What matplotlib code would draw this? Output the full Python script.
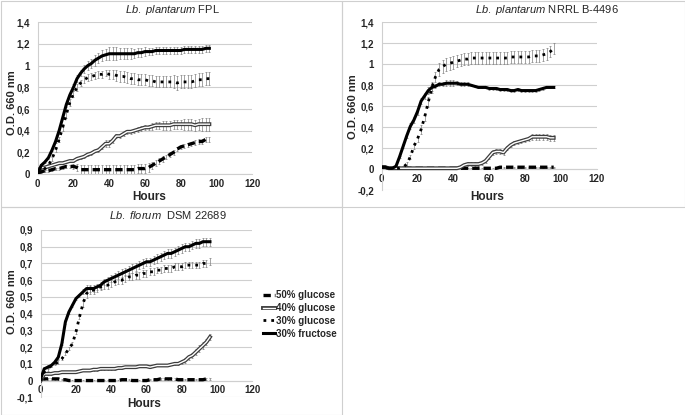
import matplotlib
matplotlib.use('Agg')
import matplotlib.pyplot as plt
import matplotlib.patheffects as pe
from matplotlib.patches import Rectangle
from matplotlib.ticker import FuncFormatter, MultipleLocator

plt.rcParams['font.family'] = ['Liberation Sans', 'DejaVu Sans']
plt.rcParams['mathtext.fontset'] = 'custom'
plt.rcParams['mathtext.rm'] = 'Liberation Sans'
plt.rcParams['mathtext.it'] = 'Liberation Sans:italic'

# sampling times (h), one reading every 2 h
hours = list(range(0, 97, 2))

# ---- Lb. plantarum FPL ----
fpl_fru = [0.00, 0.08, 0.11, 0.15, 0.22, 0.30, 0.40, 0.52, 0.64, 0.73,
           0.80, 0.88, 0.93, 0.97, 1.00, 1.02, 1.05, 1.07, 1.09, 1.10,
           1.11, 1.11, 1.11, 1.11, 1.11, 1.11, 1.11, 1.11, 1.12, 1.12,
           1.13, 1.13, 1.13, 1.14, 1.14, 1.14, 1.14, 1.14, 1.14, 1.14,
           1.14, 1.15, 1.15, 1.15, 1.15, 1.15, 1.15, 1.16, 1.16]
fpl_fru_err = [0.01, 0.01, 0.01, 0.01, 0.01, 0.01, 0.01, 0.01, 0.02, 0.02,
               0.03, 0.03, 0.03, 0.04, 0.04, 0.04, 0.05, 0.05, 0.05, 0.05,
               0.06, 0.06, 0.06, 0.05, 0.05, 0.05, 0.05, 0.04, 0.04, 0.04,
               0.04, 0.03, 0.03, 0.03, 0.03, 0.03, 0.03, 0.03, 0.03, 0.03,
               0.03, 0.03, 0.03, 0.03, 0.03, 0.03, 0.03, 0.03, 0.03]
fpl_g30 = [0.00, 0.03, 0.05, 0.08, 0.14, 0.22, 0.32, 0.43, 0.55, 0.66,
           0.74, 0.80, 0.84, 0.87, 0.89, 0.90, 0.91, 0.92, 0.92, 0.93,
           0.92, 0.92, 0.91, 0.90, 0.90, 0.89, 0.88, 0.88, 0.87, 0.87,
           0.87, 0.86, 0.86, 0.85, 0.85, 0.85, 0.85, 0.85, 0.85, 0.84,
           0.85, 0.85, 0.85, 0.85, 0.86, 0.87, 0.87, 0.88, 0.88]
fpl_g30_err = [0.01, 0.01, 0.01, 0.01, 0.02, 0.02, 0.02, 0.03, 0.03, 0.03,
               0.03, 0.03, 0.03, 0.03, 0.03, 0.03, 0.03, 0.03, 0.03, 0.03,
               0.04, 0.04, 0.05, 0.05, 0.05, 0.05, 0.05, 0.05, 0.05, 0.05,
               0.05, 0.05, 0.05, 0.05, 0.05, 0.05, 0.05, 0.05, 0.06, 0.06,
               0.06, 0.06, 0.06, 0.06, 0.06, 0.06, 0.06, 0.06, 0.06]
fpl_g40 = [0.03, 0.06, 0.06, 0.07, 0.08, 0.09, 0.10, 0.10, 0.11, 0.12,
           0.12, 0.14, 0.15, 0.16, 0.18, 0.19, 0.21, 0.22, 0.25, 0.28,
           0.28, 0.31, 0.35, 0.35, 0.37, 0.39, 0.39, 0.40, 0.41, 0.42,
           0.43, 0.43, 0.44, 0.45, 0.45, 0.45, 0.45, 0.45, 0.46, 0.46,
           0.46, 0.46, 0.46, 0.46, 0.45, 0.46, 0.46, 0.46, 0.46]
fpl_g40_err = [0.01, 0.01, 0.01, 0.01, 0.01, 0.01, 0.01, 0.01, 0.01, 0.01,
               0.01, 0.01, 0.01, 0.01, 0.01, 0.01, 0.01, 0.02, 0.02, 0.03,
               0.03, 0.02, 0.02, 0.02, 0.02, 0.02, 0.02, 0.02, 0.02, 0.02,
               0.02, 0.02, 0.03, 0.03, 0.03, 0.04, 0.04, 0.04, 0.04, 0.04,
               0.04, 0.05, 0.05, 0.05, 0.05, 0.05, 0.06, 0.06, 0.06]
fpl_g50 = [0.01, 0.02, 0.03, 0.03, 0.04, 0.05, 0.05, 0.06, 0.07, 0.07,
           0.07, 0.06, 0.04, 0.04, 0.04, 0.04, 0.04, 0.04, 0.04, 0.04,
           0.04, 0.04, 0.04, 0.04, 0.04, 0.04, 0.04, 0.04, 0.05, 0.05,
           0.05, 0.06, 0.08, 0.10, 0.12, 0.14, 0.16, 0.18, 0.20, 0.23,
           0.25, 0.26, 0.27, 0.28, 0.29, 0.30, 0.30, 0.32, 0.32]
fpl_g50_err = [0.01, 0.01, 0.01, 0.01, 0.01, 0.01, 0.01, 0.01, 0.01, 0.01,
               0.02, 0.03, 0.04, 0.04, 0.04, 0.04, 0.04, 0.04, 0.04, 0.04,
               0.04, 0.04, 0.04, 0.04, 0.04, 0.04, 0.04, 0.04, 0.04, 0.04,
               0.04, 0.04, 0.03, 0.03, 0.03, 0.03, 0.02, 0.02, 0.02, 0.02,
               0.02, 0.02, 0.02, 0.02, 0.02, 0.02, 0.02, 0.02, 0.02]

# ---- Lb. plantarum NRRL B-4496 ----
nrrl_fru = [0.02, 0.02, 0.01, 0.01, 0.03, 0.12, 0.22, 0.32, 0.41, 0.47,
            0.55, 0.65, 0.70, 0.75, 0.78, 0.79, 0.81, 0.81, 0.82, 0.82,
            0.82, 0.82, 0.81, 0.81, 0.81, 0.80, 0.79, 0.78, 0.78, 0.78,
            0.77, 0.77, 0.77, 0.76, 0.76, 0.76, 0.75, 0.75, 0.76, 0.75,
            0.75, 0.75, 0.75, 0.75, 0.76, 0.77, 0.78, 0.78, 0.78]
nrrl_fru_err = [0.01, 0.01, 0.01, 0.01, 0.01, 0.01, 0.02, 0.02, 0.03, 0.03,
                0.03, 0.03, 0.03, 0.03, 0.03, 0.02, 0.02, 0.02, 0.03, 0.03,
                0.03, 0.02, 0.02, 0.02, 0.02, 0.01, 0.01, 0.01, 0.01, 0.01,
                0.01, 0.01, 0.01, 0.01, 0.01, 0.01, 0.01, 0.01, 0.01, 0.01,
                0.01, 0.01, 0.01, 0.01, 0.01, 0.01, 0.01, 0.01, 0.01]
nrrl_g30 = [0.02, 0.02, 0.01, 0.01, 0.01, 0.01, 0.02, 0.05, 0.12, 0.22,
            0.29, 0.38, 0.50, 0.64, 0.78, 0.88, 0.95, 0.98, 1.00, 1.01,
            1.02, 1.03, 1.04, 1.05, 1.05, 1.06, 1.06, 1.06, 1.06, 1.06,
            1.06, 1.06, 1.06, 1.06, 1.06, 1.06, 1.07, 1.07, 1.07, 1.07,
            1.07, 1.07, 1.08, 1.08, 1.08, 1.09, 1.10, 1.12, 1.15]
nrrl_g30_err = [0.01, 0.01, 0.01, 0.01, 0.01, 0.01, 0.01, 0.02, 0.02, 0.03,
                0.03, 0.04, 0.04, 0.05, 0.05, 0.05, 0.06, 0.06, 0.06, 0.06,
                0.06, 0.06, 0.06, 0.06, 0.06, 0.06, 0.06, 0.06, 0.06, 0.06,
                0.06, 0.06, 0.06, 0.06, 0.06, 0.06, 0.06, 0.06, 0.06, 0.06,
                0.06, 0.06, 0.06, 0.06, 0.06, 0.06, 0.06, 0.05, 0.05]
nrrl_g40 = [0.02, 0.02, 0.01, 0.01, 0.01, 0.01, 0.01, 0.01, 0.01, 0.01,
            0.01, 0.01, 0.01, 0.01, 0.01, 0.01, 0.01, 0.01, 0.01, 0.01,
            0.01, 0.01, 0.02, 0.04, 0.05, 0.05, 0.05, 0.05, 0.06, 0.08,
            0.12, 0.16, 0.17, 0.17, 0.16, 0.20, 0.23, 0.25, 0.26, 0.27,
            0.28, 0.29, 0.31, 0.31, 0.31, 0.31, 0.31, 0.30, 0.30]
nrrl_g40_err = [0.01, 0.01, 0.01, 0.01, 0.01, 0.01, 0.01, 0.01, 0.01, 0.01,
                0.01, 0.01, 0.01, 0.01, 0.01, 0.01, 0.01, 0.01, 0.01, 0.01,
                0.01, 0.01, 0.01, 0.01, 0.02, 0.02, 0.02, 0.02, 0.02, 0.02,
                0.02, 0.02, 0.02, 0.02, 0.02, 0.02, 0.02, 0.02, 0.02, 0.02,
                0.02, 0.02, 0.03, 0.03, 0.03, 0.03, 0.03, 0.03, 0.03]
nrrl_g50 = [0.02, 0.02, 0.01, 0.01, 0.01, 0.01, 0.01, 0.01, 0.01, 0.01,
            0.01, 0.01, 0.01, 0.01, 0.01, 0.01, 0.01, 0.01, 0.01, 0.01,
            0.01, 0.01, 0.01, 0.01, 0.01, 0.01, 0.01, 0.01, 0.01, 0.01,
            0.01, 0.01, 0.01, 0.02, 0.02, 0.02, 0.02, 0.02, 0.02, 0.02,
            0.02, 0.02, 0.02, 0.02, 0.02, 0.02, 0.02, 0.02, 0.02]
nrrl_g50_err = [0.005] * 49

# ---- Lb. florum DSM 22689 ----
fl_fru = [0.01, 0.07, 0.08, 0.09, 0.11, 0.14, 0.22, 0.35, 0.41, 0.45,
          0.49, 0.51, 0.53, 0.55, 0.55, 0.55, 0.56, 0.57, 0.59, 0.60,
          0.61, 0.62, 0.63, 0.64, 0.65, 0.66, 0.67, 0.68, 0.69, 0.70,
          0.71, 0.71, 0.72, 0.73, 0.74, 0.75, 0.76, 0.76, 0.77, 0.78,
          0.79, 0.80, 0.80, 0.81, 0.82, 0.82, 0.83, 0.83, 0.83]
fl_fru_err = [0.005, 0.01, 0.01, 0.01, 0.01, 0.01, 0.01, 0.01, 0.01, 0.01,
              0.01, 0.01, 0.015, 0.02, 0.02, 0.02, 0.02, 0.02, 0.02, 0.02,
              0.02, 0.025, 0.025, 0.025, 0.025, 0.025, 0.025, 0.025, 0.025, 0.025,
              0.025, 0.025, 0.025, 0.025, 0.025, 0.025, 0.025, 0.025, 0.025, 0.025,
              0.025, 0.025, 0.025, 0.025, 0.025, 0.025, 0.025, 0.025, 0.025]
fl_g30 = [0.00, 0.05, 0.07, 0.09, 0.10, 0.11, 0.13, 0.16, 0.19, 0.22,
          0.29, 0.38, 0.46, 0.52, 0.54, 0.54, 0.55, 0.56, 0.57, 0.57,
          0.58, 0.59, 0.60, 0.60, 0.61, 0.62, 0.62, 0.63, 0.63, 0.64,
          0.64, 0.65, 0.65, 0.66, 0.66, 0.67, 0.67, 0.67, 0.68, 0.68,
          0.68, 0.69, 0.69, 0.69, 0.69, 0.69, 0.70, 0.70, 0.71]
fl_g30_err = [0.005, 0.01, 0.01, 0.01, 0.01, 0.01, 0.01, 0.01, 0.01, 0.01,
              0.01, 0.015, 0.02, 0.025, 0.025, 0.02, 0.02, 0.02, 0.02, 0.02,
              0.02, 0.02, 0.02, 0.02, 0.02, 0.02, 0.02, 0.02, 0.02, 0.02,
              0.02, 0.02, 0.02, 0.02, 0.02, 0.02, 0.02, 0.02, 0.02, 0.02,
              0.02, 0.02, 0.02, 0.02, 0.02, 0.02, 0.02, 0.02, 0.02]
fl_g40 = [0.00, 0.04, 0.04, 0.04, 0.045, 0.045, 0.05, 0.05, 0.05, 0.05,
          0.05, 0.055, 0.06, 0.06, 0.06, 0.065, 0.065, 0.07, 0.07, 0.07,
          0.07, 0.07, 0.075, 0.075, 0.08, 0.08, 0.08, 0.08, 0.085, 0.085,
          0.085, 0.08, 0.085, 0.09, 0.09, 0.09, 0.09, 0.095, 0.10, 0.10,
          0.11, 0.12, 0.14, 0.15, 0.17, 0.19, 0.21, 0.23, 0.26]
fl_g40_err = [0.005, 0.005, 0.005, 0.005, 0.005, 0.005, 0.005, 0.005, 0.005, 0.005,
              0.005, 0.005, 0.005, 0.005, 0.005, 0.005, 0.005, 0.005, 0.005, 0.005,
              0.005, 0.005, 0.005, 0.005, 0.005, 0.005, 0.005, 0.005, 0.005, 0.005,
              0.005, 0.005, 0.005, 0.005, 0.005, 0.005, 0.005, 0.005, 0.01, 0.01,
              0.01, 0.015, 0.015, 0.015, 0.02, 0.02, 0.02, 0.02, 0.02]
fl_g50 = [0.01, 0.01, 0.01, 0.01, 0.01, 0.01, 0.005, 0.005, 0.00, 0.00,
          0.00, 0.00, 0.00, 0.00, 0.00, 0.00, 0.00, 0.00, 0.00, 0.00,
          0.00, 0.00, 0.00, 0.005, 0.005, 0.005, 0.00, 0.00, 0.00, 0.00,
          0.00, 0.005, 0.005, 0.005, 0.01, 0.01, 0.01, 0.01, 0.01, 0.005,
          0.005, 0.005, 0.005, 0.005, 0.005, 0.005, 0.005, 0.01, 0.01]
fl_g50_err = [0.004] * 49

labels = ['50% glucose', '40% glucose', '30% glucose', '30% fructose']

panels = [
    dict(title=r'$\mathit{Lb.\ plantarum}$ FPL', title_xy=(172, 10),
         rect=[0.0550, 0.5807, 0.3133, 0.3655], ylim=(0, 1.4), ystep=0.2,
         ylab_xy=(-0.12, 0.468), xlab_xy=(0.52, -0.151),
         data=[(fpl_g50, fpl_g50_err), (fpl_g40, fpl_g40_err),
               (fpl_g30, fpl_g30_err), (fpl_fru, fpl_fru_err)]),
    dict(title=r'$\mathit{Lb.\ plantarum}$ NRRL B-4496', title_xy=(547, 10),
         rect=[0.5572, 0.5414, 0.3139, 0.4048], ylim=(-0.2, 1.4), ystep=0.2,
         ylab_xy=(-0.133, 0.496), xlab_xy=(0.49, -0.04),
         data=[(nrrl_g50, nrrl_g50_err), (nrrl_g40, nrrl_g40_err),
               (nrrl_g30, nrrl_g30_err), (nrrl_fru, nrrl_fru_err)]),
    dict(title=r'$\mathit{Lb.\ florum}$  DSM 22689', title_xy=(168, 215),
         rect=[0.0594, 0.0427, 0.3089, 0.4031], ylim=(-0.1, 0.9), ystep=0.1,
         ylab_xy=(-0.136, 0.57), xlab_xy=(0.49, -0.04),
         data=[(fl_g50, fl_g50_err), (fl_g40, fl_g40_err),
               (fl_g30, fl_g30_err), (fl_fru, fl_fru_err)]),
]

W, H = 685, 415
txt = '#262626'
grid = '#cfcfcf'

# series styles: 50% glc dashed, 40% glc double line, 30% glc dotted, fructose solid
styles = [
    dict(color='black', lw=2.4, ls=(0, (2.2, 1.2))),
    dict(color='white', lw=1.0, ls='-',
         path_effects=[pe.Stroke(linewidth=2.8, foreground='#3c3c3c'), pe.Normal()]),
    dict(color='black', lw=2.0, ls=(0, (1, 1.8))),
    dict(color='black', lw=2.2, ls='-'),
]


def fmt(v, pos):
    if abs(v) < 1e-9:
        return '0'
    return ('%g' % round(v, 2)).replace('.', ',')


fig = plt.figure(figsize=(W / 100, H / 100), dpi=100)

# panel frames
for x0, y0, x1, y1 in [(0.5, 0.5, 342, 207), (342, 0.5, 684.5, 207), (0.5, 207, 342, 414.5)]:
    fig.add_artist(Rectangle((x0 / W, 1 - y1 / H), (x1 - x0) / W, (y1 - y0) / H,
                             transform=fig.transFigure, fill=False,
                             edgecolor=grid, lw=0.8))

handles = []
for p in panels:
    ax = fig.add_axes(p['rect'])
    for (vals, err), st in zip(p['data'], styles):
        ax.errorbar(hours, vals, yerr=err, fmt='none', ecolor='#808080',
                    elinewidth=0.5, capsize=1.0, capthick=0.5, zorder=2)
    lines = []
    for (vals, err), st, lab in zip(p['data'], styles, labels):
        ln, = ax.plot(hours, vals, color=st['color'], lw=st['lw'], ls=st['ls'],
                      label=lab, zorder=3, dash_capstyle='butt',
                      path_effects=st.get('path_effects'))
        lines.append(ln)
    handles = lines

    ax.set_xlim(0, 120)
    ax.set_ylim(*p['ylim'])
    ax.xaxis.set_major_locator(MultipleLocator(20))
    ax.yaxis.set_major_locator(MultipleLocator(p['ystep']))
    ax.yaxis.set_major_formatter(FuncFormatter(fmt))
    ax.yaxis.grid(True, color=grid, lw=0.8)
    ax.set_axisbelow(True)
    for s in ['top', 'right']:
        ax.spines[s].set_visible(False)
    ax.spines['left'].set_color(grid)
    ax.spines['bottom'].set_color(grid)
    ax.spines['bottom'].set_position(('data', 0))
    ax.tick_params(length=0, labelsize=7, labelcolor=txt)
    ax.tick_params(axis='x', pad=3.5)
    ax.tick_params(axis='y', pad=5.5)
    for t in ax.get_xticklabels() + ax.get_yticklabels():
        t.set_fontweight('bold')

    ax.set_xlabel('Hours', fontsize=8.5, fontweight='bold', color=txt)
    ax.xaxis.set_label_coords(*p['xlab_xy'])
    ax.xaxis.label.set_verticalalignment('center')
    ax.set_ylabel('O.D. 660 nm', fontsize=8, fontweight='bold', color=txt)
    ax.yaxis.set_label_coords(*p['ylab_xy'])
    ax.yaxis.label.set_verticalalignment('center')

    tx, ty = p['title_xy']
    fig.text(tx / W, 1 - ty / H, p['title'], ha='center', va='center',
             fontsize=8, color=txt)

fig.legend(handles=handles, labels=labels, loc='upper left',
           bbox_to_anchor=(263 / W, 1 - 290 / H), frameon=False,
           prop=dict(size=7, weight='bold'), labelcolor=txt,
           handlelength=1.2, handletextpad=0.15, labelspacing=0.3,
           borderpad=0, borderaxespad=0)

fig.savefig('out.png', dpi=100)
